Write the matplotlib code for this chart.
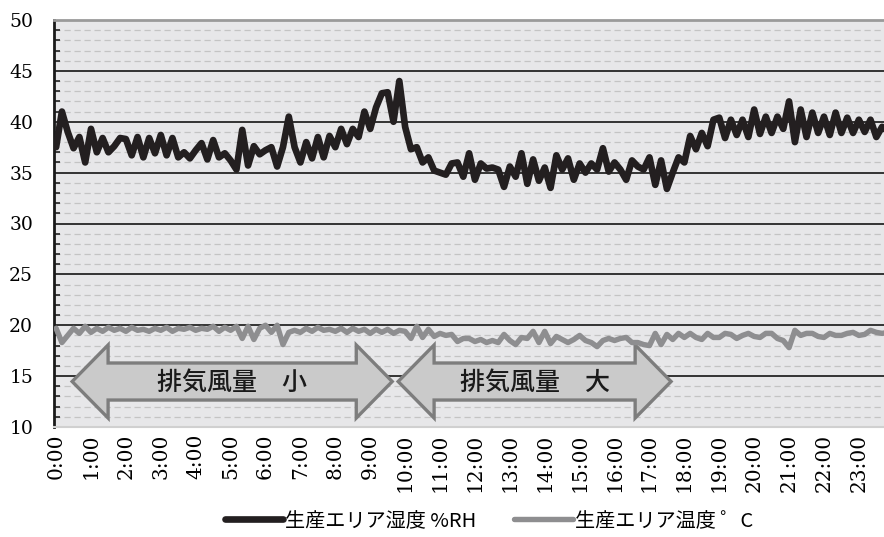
import matplotlib.pyplot as plt
from matplotlib.patches import Polygon
import numpy as np

plt.rcParams['font.family'] = ['DejaVu Serif', 'Noto Sans CJK JP']

# 時刻ラベル（1時間ごと）
hour_labels = [f'{h}:00' for h in range(24)]

# 10分ごとの測定値（0:00〜23:50）
humidity = [
    37.5, 41.0, 39.0, 37.4, 38.5, 36.0,
    39.3, 37.0, 38.4, 37.0, 37.6, 38.4,
    38.3, 36.7, 38.5, 36.5, 38.4, 36.9,
    38.7, 36.7, 38.4, 36.5, 37.0, 36.4,
    37.2, 37.9, 36.3, 38.2, 36.5, 36.9,
    36.2, 35.3, 39.2, 35.7, 37.6, 36.8,
    37.2, 37.5, 35.6, 37.5, 40.5, 37.5,
    36.0, 38.0, 36.4, 38.5, 36.5, 38.6,
    37.5, 39.3, 37.8, 39.3, 38.5, 41.0,
    39.3, 41.4, 42.8, 42.9, 40.0, 44.0,
    39.5, 37.3, 37.5, 36.0, 36.5, 35.2,
    35.0, 34.8, 35.9, 36.0, 34.6, 36.9,
    34.3, 35.9, 35.4, 35.5, 35.3, 33.6,
    35.6, 34.6, 36.9, 33.9, 36.3, 34.2,
    35.5, 33.5, 36.7, 35.3, 36.4, 34.3,
    35.9, 35.0, 35.9, 35.3, 37.4, 35.1,
    36.0, 35.3, 34.3, 36.2, 35.6, 35.3,
    36.5, 33.8, 36.2, 33.4, 35.0, 36.5,
    36.0, 38.6, 37.3, 38.9, 37.6, 40.2,
    40.4, 38.4, 40.2, 38.7, 40.2, 38.5,
    41.2, 38.8, 40.5, 38.9, 40.5, 39.3,
    42.0, 38.0, 41.2, 38.5, 40.9, 38.9,
    40.5, 38.7, 40.9, 38.9, 40.4, 38.9,
    40.2, 39.0, 40.2, 38.5, 39.5, 39.0,
]
temperature = [
    19.7, 18.3, 19.0, 19.7, 19.2, 19.9,
    19.3, 19.7, 19.4, 19.8, 19.5, 19.7,
    19.4, 19.8, 19.5, 19.6, 19.4, 19.7,
    19.5, 19.8, 19.4, 19.7, 19.6, 19.8,
    19.5, 19.7, 19.6, 19.9, 19.4, 19.8,
    19.5, 19.9, 18.7, 19.9, 18.6, 19.7,
    20.0, 19.3, 20.0, 18.1, 19.3, 19.5,
    19.3, 19.7, 19.4, 19.8, 19.5, 19.6,
    19.4, 19.7, 19.3, 19.7, 19.4, 19.6,
    19.2, 19.6, 19.3, 19.6, 19.2, 19.5,
    19.4, 18.7, 19.9, 18.8, 19.6, 18.9,
    19.2, 19.0, 19.1, 18.4, 18.7, 18.7,
    18.4, 18.6, 18.3, 18.5, 18.3, 19.1,
    18.5, 18.1, 18.8, 18.7, 19.4, 18.3,
    19.4, 18.2, 18.9, 18.6, 18.3, 18.6,
    19.0, 18.5, 18.3, 17.9, 18.5, 18.7,
    18.5, 18.7, 18.8, 18.3, 18.3, 18.1,
    18.0, 19.2, 18.1, 19.1, 18.6, 19.2,
    18.8, 19.2, 18.8, 18.6, 19.2, 18.8,
    18.8, 19.2, 19.1, 18.7, 19.0, 19.2,
    18.9, 18.8, 19.2, 19.2, 18.7, 18.5,
    17.8, 19.5, 19.0, 19.2, 19.2, 18.9,
    18.8, 19.2, 19.0, 19.0, 19.2, 19.3,
    19.0, 19.1, 19.5, 19.3, 19.2, 19.3,
]

# 排気風量の区間（時刻）と表示文字
fan_spans = [(0.46, 9.63), (9.80, 17.62)]
fan_labels = ['排気風量　小', '排気風量　大']

t = np.arange(len(humidity)) / 6

fig = plt.figure(figsize=(8.84, 5.37), dpi=100)
ax = fig.add_axes([54 / 884, 1 - 427 / 537, 1 - 54 / 884, 407 / 537])
ax.set_facecolor('#e7e7e9')

ax.set_xlim(-0.06, 23.72)
ax.set_ylim(10, 50)
ax.set_yticks(range(10, 51, 5))
ax.set_yticks(range(10, 51), minor=True)
ax.grid(which='major', axis='y', color='#262626', lw=1.3, zorder=1)
ax.grid(which='minor', axis='y', color='#c4c4c4', lw=0.9, ls=(0, (5, 3)), zorder=0.5)
ax.set_axisbelow(True)

ax.set_xticks(range(24))
ax.set_xticklabels(hour_labels, rotation=90, fontsize=14.5)
ax.tick_params(axis='x', length=0, pad=5)
ax.tick_params(axis='y', which='major', length=0, pad=15, labelsize=13.5)
ax.tick_params(axis='y', which='minor', direction='in', length=4, width=1.2, color='#222222')

ax.spines['left'].set_color('#1a1a1a')
ax.spines['left'].set_linewidth(2)
ax.spines['top'].set_color('#9a9a9a')
ax.spines['top'].set_linewidth(2)
ax.spines['bottom'].set_color('#d0d0d0')
ax.spines['bottom'].set_linewidth(1.5)
ax.spines['right'].set_visible(False)

# 矢印（両方向）
def block_arrow(x0, x1):
    yc, head_len, body_h, head_h = 14.47, 1.03, 3.64, 7.18
    pts = [(x0, yc), (x0 + head_len, yc + head_h / 2), (x0 + head_len, yc + body_h / 2),
           (x1 - head_len, yc + body_h / 2), (x1 - head_len, yc + head_h / 2), (x1, yc),
           (x1 - head_len, yc - head_h / 2), (x1 - head_len, yc - body_h / 2),
           (x0 + head_len, yc - body_h / 2), (x0 + head_len, yc - head_h / 2)]
    ax.add_patch(Polygon(pts, closed=True, facecolor='#cacaca', edgecolor='#7d7d7d',
                         lw=2.4, joinstyle='miter', zorder=3))

for (x0, x1), label in zip(fan_spans, fan_labels):
    block_arrow(x0, x1)
    ax.text((x0 + x1) / 2, 14.4, label, ha='center', va='center', fontsize=18,
            family=['Noto Sans CJK JP'], weight='medium', color='#1a1a1a', zorder=4)

ax.plot(t, humidity, color='#231f20', lw=4.8, solid_joinstyle='round',
        solid_capstyle='round', zorder=5, label='生産エリア湿度 %RH')
ax.plot(t, temperature, color='#8e8e90', lw=3.9, solid_joinstyle='round',
        solid_capstyle='round', zorder=4, label='生産エリア温度 ゜C')

leg = fig.legend(loc='center', bbox_to_anchor=(0.553, 0.03), ncol=2, frameon=False,
                 handlelength=2.9, handletextpad=0.1, columnspacing=1.9,
                 prop={'family': ['Noto Sans CJK JP'], 'size': 14.5})

fig.savefig('out.png', dpi=100)
